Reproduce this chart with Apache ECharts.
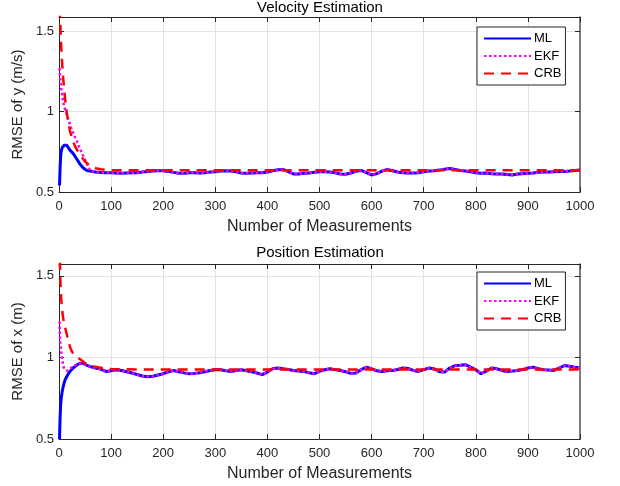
<!DOCTYPE html>
<html><head><meta charset="utf-8">
<script src="https://cdn.jsdelivr.net/npm/echarts@6/dist/echarts.min.js"></script>
<style>html,body{margin:0;padding:0;background:#fff}#c{width:620px;height:486px}</style>
</head><body><div id="c"></div>
<script>
// ---- data ----
const earlyX = [1,2,3,4,6,8,10,12,15,18,21,24,27,30,35,40,45,50,55];
const steadyX = [60,70,80,90,100,110,120,130,140,150,160,170,180,190,200,210,220,230,240,250,260,270,280,290,300,310,320,330,340,350,360,370,380,390,400,410,420,430,440,450,460,470,480,490,500,510,520,530,540,550,560,570,580,590,600,610,620,630,640,650,660,670,680,690,700,710,720,730,740,750,760,770,780,790,800,810,820,830,840,850,860,870,880,890,900,910,920,930,940,950,960,970,980,990,1000];

// Velocity (top)
const velMLEarly  = [0.54,0.64,0.71,0.75,0.775,0.785,0.79,0.792,0.79,0.775,0.76,0.75,0.74,0.725,0.70,0.675,0.655,0.64,0.632];
const velEKFEarly = [1.27,1.22,1.18,1.15,1.10,1.06,1.03,1.01,0.98,0.95,0.92,0.89,0.87,0.845,0.81,0.77,0.735,0.70,0.665];
const velCRBEarly = [1.75,1.6,1.5,1.42,1.30,1.21,1.13,1.07,0.99,0.93,0.88,0.845,0.815,0.79,0.76,0.735,0.71,0.69,0.675];
const velSteady = [0.630,0.624,0.621,0.620,0.620,0.618,0.616,0.618,0.620,0.620,0.624,0.628,0.630,0.632,0.632,0.628,0.622,0.616,0.617,0.620,0.620,0.618,0.620,0.624,0.626,0.630,0.632,0.630,0.625,0.618,0.616,0.618,0.620,0.620,0.624,0.632,0.638,0.640,0.626,0.612,0.612,0.616,0.618,0.622,0.626,0.626,0.624,0.620,0.612,0.610,0.618,0.628,0.634,0.620,0.606,0.614,0.630,0.640,0.632,0.624,0.620,0.618,0.618,0.620,0.626,0.630,0.632,0.636,0.642,0.646,0.640,0.634,0.630,0.626,0.620,0.616,0.618,0.614,0.612,0.612,0.608,0.606,0.612,0.614,0.616,0.618,0.622,0.624,0.624,0.626,0.628,0.628,0.630,0.634,0.636];
const velCRBTailX = [60,70,80,90,100,200,300,400,500,600,700,800,900,1000];
const velCRBTail  = [0.662,0.648,0.641,0.637,0.635,0.635,0.635,0.635,0.635,0.635,0.635,0.635,0.635,0.635];

// Position (bottom)
const posMLEarly  = [0.5,0.62,0.70,0.74,0.79,0.82,0.845,0.865,0.883,0.9,0.914,0.925,0.935,0.944,0.955,0.963,0.965,0.958,0.95];
const posEKFEarly = [1.22,1.12,1.07,1.04,0.99,0.95,0.93,0.922,0.918,0.922,0.93,0.937,0.944,0.95,0.958,0.962,0.962,0.955,0.948];
const posCRBEarly = [1.7,1.55,1.44,1.37,1.29,1.24,1.21,1.18,1.14,1.10,1.065,1.04,1.025,1.013,1.0,0.99,0.978,0.965,0.955];
const posSteady = [0.944,0.935,0.928,0.914,0.918,0.924,0.92,0.912,0.904,0.895,0.886,0.882,0.884,0.892,0.9,0.912,0.92,0.912,0.905,0.9,0.902,0.906,0.912,0.92,0.924,0.924,0.918,0.914,0.92,0.924,0.918,0.912,0.904,0.894,0.91,0.93,0.935,0.93,0.926,0.92,0.916,0.914,0.906,0.9,0.914,0.924,0.93,0.925,0.92,0.912,0.902,0.905,0.925,0.94,0.93,0.918,0.914,0.918,0.92,0.926,0.935,0.932,0.92,0.914,0.925,0.935,0.93,0.912,0.91,0.935,0.95,0.952,0.955,0.94,0.924,0.9,0.915,0.935,0.93,0.92,0.914,0.916,0.92,0.925,0.935,0.94,0.93,0.924,0.922,0.92,0.935,0.95,0.945,0.94,0.938];
const posCRBTailX = [60,70,80,90,100,110,200,300,400,500,600,700,800,900,1000];
const posCRBTail  = [0.95,0.942,0.937,0.932,0.929,0.927,0.925,0.925,0.925,0.925,0.925,0.925,0.925,0.925,0.925];

const xTicks = {min:0, max:1000, interval:100};
const velY = {min:0.5, max:1.587, interval:0.5};
const posY = {min:0.5, max:1.572, interval:0.5};
const titles = ['Velocity Estimation','Position Estimation'];
const yNames = ['RMSE of y (m/s)','RMSE of x (m)'];
const xName = 'Number of Measurements';
const names = ['ML','EKF','CRB'];

// ---- build ----
const zip = (xs, ys) => xs.map((x,i)=>[x, ys[i]]);
const FONT = 'Liberation Sans, Arial, Helvetica, sans-serif';
const AX = '#262626';
const grids = [
  {left:59, top:17, width:521, height:175},
  {left:59, top:264, width:521, height:175}
];
const xAxes = [], yAxes = [];
[velY, posY].forEach((yr, g) => {
  xAxes.push({gridIndex:g, type:'value', position:'bottom', min:xTicks.min, max:xTicks.max, interval:xTicks.interval,
    name:xName, nameLocation:'middle', nameGap:27,
    nameTextStyle:{fontFamily:FONT, fontSize:16, color:AX},
    axisLine:{show:true, onZero:false, lineStyle:{color:AX, width:1}},
    axisTick:{show:true, inside:true, length:5, lineStyle:{color:AX}},
    axisLabel:{fontFamily:FONT, fontSize:13, color:AX, margin:8, formatter: v => String(v)},
    splitLine:{show:true, lineStyle:{color:'#e3e3e3', width:1}}});
  xAxes.push({gridIndex:g, type:'value', position:'top', min:xTicks.min, max:xTicks.max, interval:xTicks.interval,
    axisLine:{show:true, onZero:false, lineStyle:{color:AX, width:1}},
    axisTick:{show:true, inside:true, length:5, lineStyle:{color:AX}},
    axisLabel:{show:false}, splitLine:{show:false}});
  yAxes.push({gridIndex:g, type:'value', position:'left', min:yr.min, max:yr.max, interval:yr.interval,
    name:yNames[g], nameLocation:'middle', nameGap:28,
    nameTextStyle:{fontFamily:FONT, fontSize:15, color:AX},
    axisLine:{show:true, onZero:false, lineStyle:{color:AX, width:1}},
    axisTick:{show:true, inside:true, length:5, lineStyle:{color:AX}},
    axisLabel:{fontFamily:FONT, fontSize:13, color:AX, margin:5,
      formatter: v => (Math.abs(v/0.5 - Math.round(v/0.5)) < 1e-6 ? String(v) : '')},
    splitLine:{show:true, lineStyle:{color:'#e3e3e3', width:1}}});
  yAxes.push({gridIndex:g, type:'value', position:'right', min:yr.min, max:yr.max, interval:yr.interval,
    axisLine:{show:true, onZero:false, lineStyle:{color:'#555', width:1.5}},
    axisTick:{show:true, inside:true, length:5, lineStyle:{color:AX}},
    axisLabel:{show:false}, splitLine:{show:false}});
});

const styles = {
  ML:  {color:'#0000ff', width:3, type:'solid'},
  EKF: {color:'#ff00ff', width:2.5, type:[2.5,2.5]},
  CRB: {color:'#ff0000', width:2.5, type:[10,7]}
};
function mk(name, g, data) {
  const s = styles[name];
  return {name, type:'line', xAxisIndex:g*2, yAxisIndex:g*2, data, symbol:'none', showSymbol:false,
    clip:true, animation:false, color:s.color,
    lineStyle:{color:s.color, width:s.width, type:s.type, cap:'butt'}};
}
const series = [
  mk('ML', 0, zip(earlyX, velMLEarly).concat(zip(steadyX, velSteady))),
  mk('EKF', 0, zip(earlyX, velEKFEarly).concat(zip(steadyX, velSteady))),
  mk('CRB', 0, zip(earlyX, velCRBEarly).concat(zip(velCRBTailX, velCRBTail))),
  mk('ML', 1, zip(earlyX, posMLEarly).concat(zip(steadyX, posSteady))),
  mk('EKF', 1, zip(earlyX, posEKFEarly).concat(zip(steadyX, posSteady))),
  mk('CRB', 1, zip(earlyX, posCRBEarly).concat(zip(posCRBTailX, posCRBTail)))
];

const legendBase = {orient:'vertical', data:names, itemWidth:47, itemHeight:13, itemGap:4.5,
  padding:[5,4,5,6], backgroundColor:'#fff', borderColor:AX, borderWidth:1, borderRadius:0,
  itemStyle:{opacity:0}, selectedMode:false,
  textStyle:{fontFamily:FONT, fontSize:13, color:'#000', padding:[0,0,0,-2]}};

const chart = echarts.init(document.getElementById('c'), null, {renderer:'canvas'});
chart.setOption({
  animation:false,
  backgroundColor:'#fff',
  title:[
    {text:titles[0], left:320, top:0, padding:0, textAlign:'center', textStyle:{fontFamily:FONT, fontSize:15, fontWeight:'normal', color:'#000'}},
    {text:titles[1], left:320, top:245, padding:0, textAlign:'center', textStyle:{fontFamily:FONT, fontSize:15, fontWeight:'normal', color:'#000'}}
  ],
  grid:grids,
  xAxis:xAxes,
  yAxis:yAxes,
  legend:[Object.assign({left:477, top:27}, legendBase), Object.assign({left:477, top:272}, legendBase)],
  series
});
</script></body></html>
